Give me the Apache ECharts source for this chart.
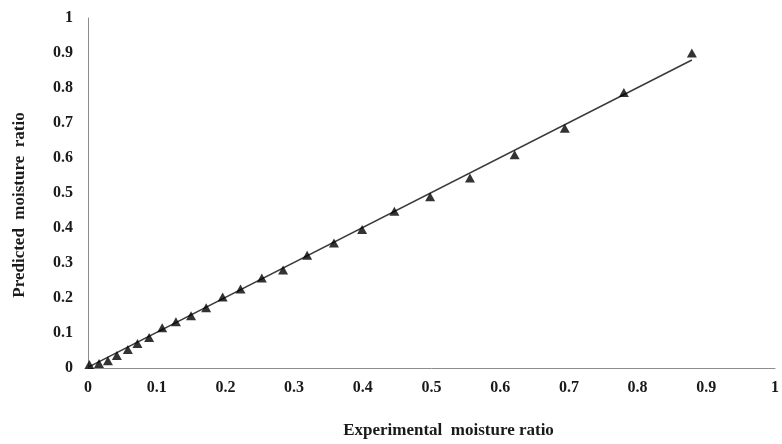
<!DOCTYPE html>
<html>
<head>
<meta charset="utf-8">
<script src="https://cdn.jsdelivr.net/npm/echarts@6/dist/echarts.min.js"></script>
<style>
  html, body { margin: 0; padding: 0; background: #fff; }
  #chart { width: 782px; height: 444px; }
</style>
</head>
<body>
<div id="chart"></div>
<script>
// experimental vs predicted moisture ratio
const experimental = [0.002, 0.016, 0.029, 0.042, 0.058, 0.072, 0.089, 0.108, 0.128, 0.150,
  0.172, 0.196, 0.222, 0.253, 0.284, 0.319, 0.358, 0.399, 0.446, 0.498, 0.556, 0.621,
  0.694, 0.780, 0.879]
const predicted = [0.010, 0.013, 0.021, 0.036, 0.053, 0.070, 0.087, 0.115, 0.132, 0.149,
  0.172, 0.203, 0.226, 0.257, 0.280, 0.322, 0.357, 0.396, 0.448, 0.489, 0.543, 0.609,
  0.685, 0.787, 0.900]
// fitted line end points
const fitX = [0.002, 0.879]
const fitY = [0.004, 0.880]
const ticks = [0, 0.1, 0.2, 0.3, 0.4, 0.5, 0.6, 0.7, 0.8, 0.9, 1]

const chart = echarts.init(document.getElementById('chart'))

const labelStyle = {
  fontFamily: 'Liberation Serif',
  fontWeight: 'bold',
  fontSize: 16,
  color: '#1a1a1a'
}

chart.setOption({
  animation: false,
  backgroundColor: '#fff',
  grid: { left: 88, right: 1, top: 18, bottom: 74.5 },
  xAxis: {
    type: 'value',
    min: 0,
    max: 1,
    interval: 0.1,
    name: 'Experimental  moisture ratio',
    nameLocation: 'middle',
    nameGap: 54,
    nameTextStyle: { ...labelStyle, fontSize: 17, padding: [0, 0, 0, 34] },
    axisLine: { lineStyle: { color: '#8c8c8c', width: 1 } },
    axisTick: { show: false },
    splitLine: { show: false },
    axisLabel: {
      ...labelStyle,
      margin: 12,
      formatter: v => String(ticks[Math.round(v * 10)])
    }
  },
  yAxis: {
    type: 'value',
    min: 0,
    max: 1,
    interval: 0.1,
    name: 'Predicted  moisture  ratio',
    nameLocation: 'middle',
    nameGap: 60,
    nameTextStyle: { ...labelStyle, fontSize: 17, padding: [0, 24, 0, 0] },
    axisLine: { show: true, lineStyle: { color: '#8c8c8c', width: 1 } },
    axisTick: { show: false },
    splitLine: { show: false },
    axisLabel: {
      ...labelStyle,
      margin: 15,
      formatter: v => String(ticks[Math.round(v * 10)])
    }
  },
  series: [
    {
      type: 'line',
      data: fitX.map((x, i) => [x, fitY[i]]),
      symbol: 'none',
      lineStyle: { color: '#3a3a3a', width: 1.5 },
      z: 1
    },
    {
      type: 'scatter',
      data: experimental.map((x, i) => [x, predicted[i]]),
      symbol: 'triangle',
      symbolSize: [10, 9],
      itemStyle: { color: '#000' },
      z: 2
    }
  ]
})
</script>
</body>
</html>
